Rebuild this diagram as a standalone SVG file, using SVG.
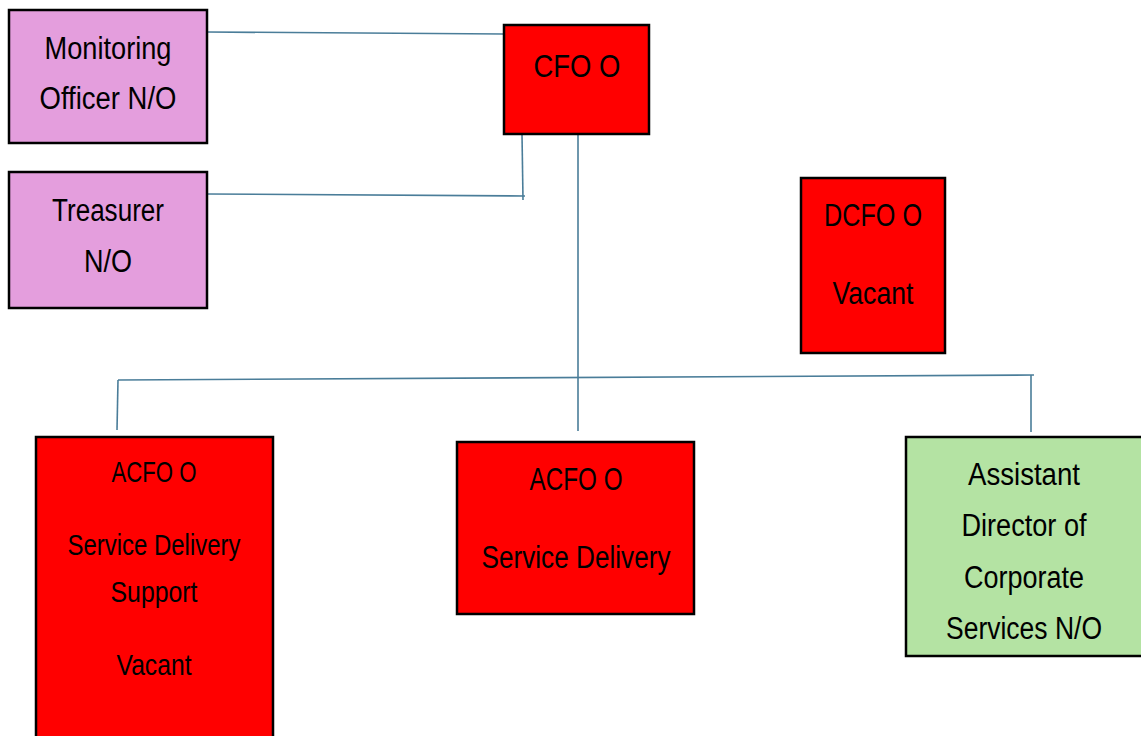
<svg xmlns="http://www.w3.org/2000/svg" width="1141" height="736" viewBox="0 0 1141 736">
  <style>
    .box { stroke: #000; stroke-width: 2.5; }
    .pink { fill: #e49edd; }
    .red { fill: #ff0000; }
    .green { fill: #b4e3a3; }
    .lbl { font-family: "Liberation Sans", Arial, sans-serif; font-size: 31px; fill: #000; text-anchor: middle; }
    .sm { font-size: 29px; }
    .link { stroke: #4a7d99; stroke-width: 1.6; fill: none; }
  </style>
  <rect width="1141" height="736" fill="#fff"/>

  <!-- reporting lines -->
  <g id="connectors">
    <polyline class="link" points="207,32 504,34"/>
    <polyline class="link" points="522,134 523,200"/>
    <polyline class="link" points="207,194 525,196"/>
    <polyline class="link" points="578,134 578,431"/>
    <polyline class="link" points="118,380 1034,375"/>
    <polyline class="link" points="118,380 117,430"/>
    <polyline class="link" points="1031,375 1031,432"/>
  </g>

  <g id="monitoring-officer">
    <rect class="box pink" x="9" y="10" width="198" height="133"/>
    <text class="lbl" x="108" y="59" textLength="127" lengthAdjust="spacingAndGlyphs">Monitoring</text>
    <text class="lbl" x="108" y="109" textLength="137" lengthAdjust="spacingAndGlyphs">Officer N/O</text>
  </g>

  <g id="treasurer">
    <rect class="box pink" x="9" y="172" width="198" height="136"/>
    <text class="lbl" x="108" y="221" textLength="112" lengthAdjust="spacingAndGlyphs">Treasurer</text>
    <text class="lbl" x="108" y="272" textLength="48" lengthAdjust="spacingAndGlyphs">N/O</text>
  </g>

  <g id="cfo">
    <rect class="box red" x="504" y="25" width="145" height="109"/>
    <text class="lbl" x="577" y="77" textLength="87" lengthAdjust="spacingAndGlyphs">CFO O</text>
  </g>

  <g id="dcfo">
    <rect class="box red" x="801" y="178" width="144" height="175"/>
    <text class="lbl" x="873" y="226" textLength="98" lengthAdjust="spacingAndGlyphs">DCFO O</text>
    <text class="lbl" x="873" y="304" textLength="81" lengthAdjust="spacingAndGlyphs">Vacant</text>
  </g>

  <g id="acfo-support">
    <rect class="box red" x="36" y="437" width="237" height="305"/>
    <text class="lbl sm" x="154" y="482" textLength="85" lengthAdjust="spacingAndGlyphs">ACFO O</text>
    <text class="lbl sm" x="154" y="555" textLength="173" lengthAdjust="spacingAndGlyphs">Service Delivery</text>
    <text class="lbl sm" x="154" y="602" textLength="87" lengthAdjust="spacingAndGlyphs">Support</text>
    <text class="lbl sm" x="154" y="675" textLength="75" lengthAdjust="spacingAndGlyphs">Vacant</text>
  </g>

  <g id="acfo-delivery">
    <rect class="box red" x="457" y="442" width="237" height="172"/>
    <text class="lbl" x="576" y="490" textLength="93" lengthAdjust="spacingAndGlyphs">ACFO O</text>
    <text class="lbl" x="576" y="568" textLength="189" lengthAdjust="spacingAndGlyphs">Service Delivery</text>
  </g>

  <g id="ad-corporate">
    <rect class="box green" x="906" y="437" width="238" height="219"/>
    <text class="lbl" x="1024" y="485" textLength="112" lengthAdjust="spacingAndGlyphs">Assistant</text>
    <text class="lbl" x="1024" y="536" textLength="125" lengthAdjust="spacingAndGlyphs">Director of</text>
    <text class="lbl" x="1024" y="588" textLength="120" lengthAdjust="spacingAndGlyphs">Corporate</text>
    <text class="lbl" x="1024" y="639" textLength="156" lengthAdjust="spacingAndGlyphs">Services N/O</text>
  </g>
</svg>
